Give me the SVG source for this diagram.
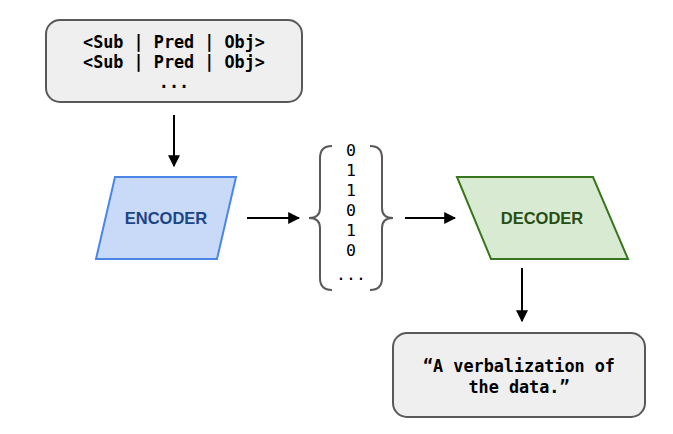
<svg xmlns="http://www.w3.org/2000/svg" width="673" height="434" viewBox="0 0 673 434">
<style>
.box{fill:#efefef;stroke:#595959;stroke-width:2}
.mono{font-family:"DejaVu Sans Mono","Liberation Mono",monospace;font-size:16.8px;font-weight:bold;fill:#000;text-anchor:middle}
.bits{font-family:"DejaVu Sans Mono","Liberation Mono",monospace;font-size:16.5px;fill:#000;text-anchor:middle}
.lbl{font-family:"Liberation Sans",Arial,sans-serif;font-size:16.5px;font-weight:bold;text-anchor:middle}
.edge{stroke:#000;stroke-width:2;fill:none;marker-end:url(#ah)}
.brace{stroke:#595959;stroke-width:2;fill:none}
</style>
<defs>
<marker id="ah" viewBox="0 0 10 10" refX="9" refY="5" markerWidth="6" markerHeight="6" orient="auto" markerUnits="strokeWidth">
<path d="M0,0 L10,5 L0,10 Z" fill="#000"/>
</marker>
</defs>
<rect width="673" height="434" fill="#fff"/>
<g id="input">
<rect class="box" x="46" y="20" width="256" height="82" rx="14"/>
<text class="mono" x="174" y="48">&lt;Sub | Pred | Obj&gt;</text>
<text class="mono" x="174" y="68">&lt;Sub | Pred | Obj&gt;</text>
<text class="mono" x="174" y="88">...</text>
</g>
<g id="encoder">
<polygon points="115,177 236,177 217,259 96,259" fill="#c9daf8" stroke="#4a86e8" stroke-width="2"/>
<text class="lbl" x="166" y="224" fill="#1c4587">ENCODER</text>
</g>
<g id="vector">
<path class="brace" d="M332,146 Q320,146 320,158 L320,208 Q320,218 309,218 Q320,218 320,228 L320,278 Q320,290 332,290"/>
<path class="brace" d="M370,146 Q382,146 382,158 L382,208 Q382,218 393,218 Q382,218 382,228 L382,278 Q382,290 370,290"/>
<text class="bits" x="351" y="156">0</text>
<text class="bits" x="351" y="176">1</text>
<text class="bits" x="351" y="196">1</text>
<text class="bits" x="351" y="216">0</text>
<text class="bits" x="351" y="236">1</text>
<text class="bits" x="351" y="256">0</text>
<text class="bits" x="351" y="280">...</text>
</g>
<g id="decoder">
<polygon points="457,177 593,177 628,259 491,259" fill="#d9ead3" stroke="#38761d" stroke-width="2"/>
<text class="lbl" x="542" y="224" fill="#274e13">DECODER</text>
</g>
<g id="output">
<rect class="box" x="393" y="333" width="252" height="84" rx="14"/>
<text class="mono" x="519" y="372">“A verbalization of</text>
<text class="mono" x="519" y="393">the data.”</text>
</g>
<g id="connectors">
<line class="edge" x1="174" y1="115" x2="174" y2="166"/>
<line class="edge" x1="247" y1="218" x2="299" y2="218"/>
<line class="edge" x1="405" y1="218" x2="455" y2="218"/>
<line class="edge" x1="522" y1="268" x2="522" y2="321"/>
</g>
</svg>
